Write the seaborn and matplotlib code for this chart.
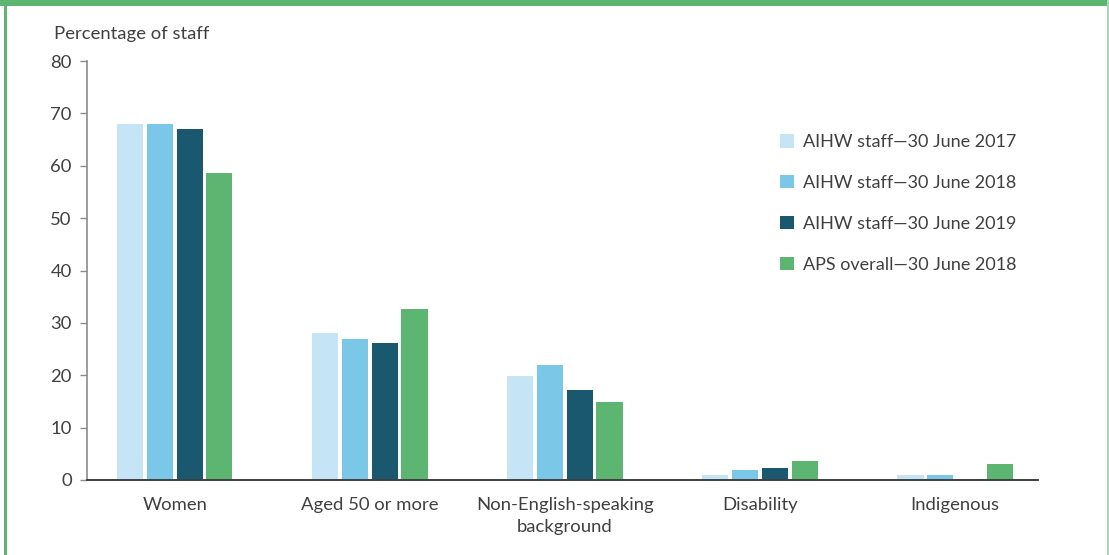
import matplotlib
matplotlib.use("Agg")
import matplotlib.pyplot as plt
import matplotlib.patches as mpatches
import seaborn as sns
import pandas as pd

categories = ["Women", "Aged 50 or more", "Non-English-speaking\nbackground",
              "Disability", "Indigenous"]
series_names = ["AIHW staff\u201430 June 2017", "AIHW staff\u201430 June 2018",
                "AIHW staff\u201430 June 2019", "APS overall\u201430 June 2018"]
staff_2017 = [67.9, 28.0, 19.8, 1.0, 1.0]
staff_2018 = [67.9, 26.9, 22.0, 1.9, 1.0]
staff_2019 = [67.1, 26.1, 17.2, 2.3, 0.2]
aps_2018 = [58.6, 32.6, 14.8, 3.6, 3.1]
y_ticks = [0, 10, 20, 30, 40, 50, 60, 70, 80]

colors = ["#C5E5F7", "#7AC7E8", "#1A5870", "#5CB672"]
text_color = "#404040"
border_green = "#5CB672"

rows = []
for name, vals in zip(series_names, [staff_2017, staff_2018, staff_2019, aps_2018]):
    for cat, v in zip(categories, vals):
        rows.append({"category": cat, "series": name, "value": v})
df = pd.DataFrame(rows)

sns.set_theme(style="white")
plt.rcParams["font.family"] = ["Lato", "DejaVu Sans"]

fs = 13.3

fig = plt.figure(figsize=(11.09, 5.55), dpi=100)
ax = fig.add_axes([87 / 1109, 1 - 480 / 555, (1038 - 87) / 1109, (480 - 61) / 555])

sns.barplot(data=df, x="category", y="value", hue="series", order=categories,
            hue_order=series_names, palette=colors, width=0.61, gap=0.12,
            saturation=1, edgecolor="none", ax=ax, legend=False)

ax.set_ylim(0, 80)
ax.set_yticks(y_ticks)
ax.set_xlim(-0.45, 4.425)
ax.set_xlabel("")
ax.set_ylabel("")

for side in ["top", "right"]:
    ax.spines[side].set_visible(False)
ax.spines["left"].set_color("#8C8C8C")
ax.spines["left"].set_linewidth(1.2)
ax.spines["bottom"].set_color(text_color)
ax.spines["bottom"].set_linewidth(1.4)

ax.tick_params(axis="y", which="both", left=True, length=5, width=1,
               color="#8C8C8C", labelsize=fs, labelcolor=text_color, pad=6)
ax.tick_params(axis="x", which="both", bottom=False, labelsize=fs,
               labelcolor=text_color, pad=6.5)
for lbl in ax.get_xticklabels():
    lbl.set_linespacing(1.45)

ax.text(54 / 1109, 1 - 34 / 555, "Percentage of staff", transform=fig.transFigure,
        fontsize=fs, color=text_color, va="center", ha="left")

handles = [mpatches.Patch(facecolor=c, edgecolor="none", label=n)
           for c, n in zip(colors, series_names)]
fig.legend(handles=handles, loc="upper left",
           bbox_to_anchor=(764 / 1109, 1 - 118 / 555), frameon=False,
           fontsize=13, labelcolor=text_color, labelspacing=1.38,
           handlelength=0.75, handleheight=0.75, handletextpad=0.5)

# Green frame round the figure
fig.patches.append(mpatches.Rectangle((0, 1 - 6 / 555), 1, 6 / 555,
                                      transform=fig.transFigure,
                                      facecolor=border_green, edgecolor="none"))
fig.patches.append(mpatches.Rectangle((4 / 1109, 0), 3 / 1109, 1,
                                      transform=fig.transFigure,
                                      facecolor=border_green, edgecolor="none"))
fig.patches.append(mpatches.Rectangle((1107 / 1109, 0), 2 / 1109, 1,
                                      transform=fig.transFigure,
                                      facecolor="#A8D8B4", edgecolor="none"))

fig.savefig("out.png", dpi=100)
